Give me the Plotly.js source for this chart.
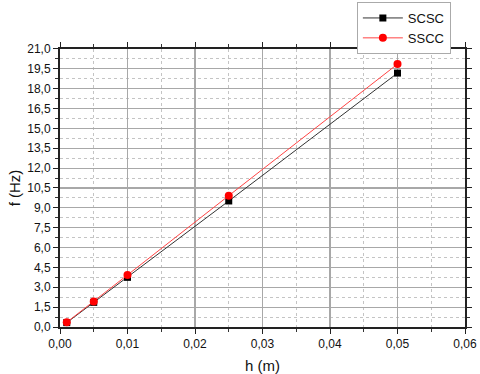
<!DOCTYPE html>
<html><head><meta charset="utf-8">
<script src="https://cdn.plot.ly/plotly-3.0.1.min.js"></script>
<style>html,body{margin:0;padding:0;background:#fff}#c{width:480px;height:374px}</style>
</head><body><div id="c"></div>
<script>
const h = [0.001, 0.005, 0.01, 0.025, 0.05];
const scsc = [0.33, 1.86, 3.75, 9.52, 19.18];
const sscc = [0.36, 1.92, 3.93, 9.92, 19.86];
const xTicks = [0, 0.01, 0.02, 0.03, 0.04, 0.05, 0.06];
const yTicks = [0, 1.5, 3, 4.5, 6, 7.5, 9, 10.5, 12, 13.5, 15, 16.5, 18, 19.5, 21];

const F = 'Liberation Sans, Arial, sans-serif';
const traces = [
  {x: h, y: scsc, name: 'SCSC', mode: 'lines+markers',
   line: {color: '#333333', width: 1}, marker: {symbol: 'square', size: 7, color: '#000'}},
  {x: h, y: sscc, name: 'SSCC', mode: 'lines+markers',
   line: {color: '#ff4444', width: 1}, marker: {symbol: 'circle', size: 8, color: '#ff0000'}}
];
const axCommon = {
  showline: true, linecolor: '#222', linewidth: 2, mirror: 'ticks',
  ticks: 'outside', ticklen: 5, tickcolor: '#222', tickwidth: 1,
  showgrid: true, gridcolor: '#a8a8a8', gridwidth: 1.2, zeroline: false,
  tickfont: {family: F, size: 12, color: '#111'},
  minor: {ticks: 'outside', ticklen: 3, tickcolor: '#333', showgrid: true, gridcolor: '#c4c4c4', griddash: 'dot', gridwidth: 1}
};
const layout = {
  width: 480, height: 374,
  margin: {l: 60, r: 15, t: 2, b: 47},
  paper_bgcolor: '#fff', plot_bgcolor: '#fff',
  separators: ',.',
  showlegend: true,
  legend: {x: 0.733, y: 1, xanchor: 'left', yanchor: 'top',
    bordercolor: '#aaa', borderwidth: 1, bgcolor: '#fff',
    font: {family: F, size: 13, color: '#111'},
    tracegroupgap: 0, itemwidth: 40},
  xaxis: Object.assign({}, axCommon, {
    range: [0, 0.06], tickvals: xTicks, tickformat: '.2f',
    minor: Object.assign({}, axCommon.minor, {dtick: 0.005, tick0: 0}),
    title: {text: 'h (m)', font: {family: F, size: 15, color: '#111'}, standoff: 10}
  }),
  yaxis: Object.assign({}, axCommon, {
    domain: [0, 0.8554],
    range: [0, 21], tickvals: yTicks, tickformat: '.1f',
    minor: Object.assign({}, axCommon.minor, {dtick: 0.75, tick0: 0}),
    title: {text: 'f (Hz)', font: {family: F, size: 15, color: '#111'}, standoff: 3}
  })
};
Plotly.newPlot('c', traces, layout, {displayModeBar: false, staticPlot: true});
</script></body></html>
